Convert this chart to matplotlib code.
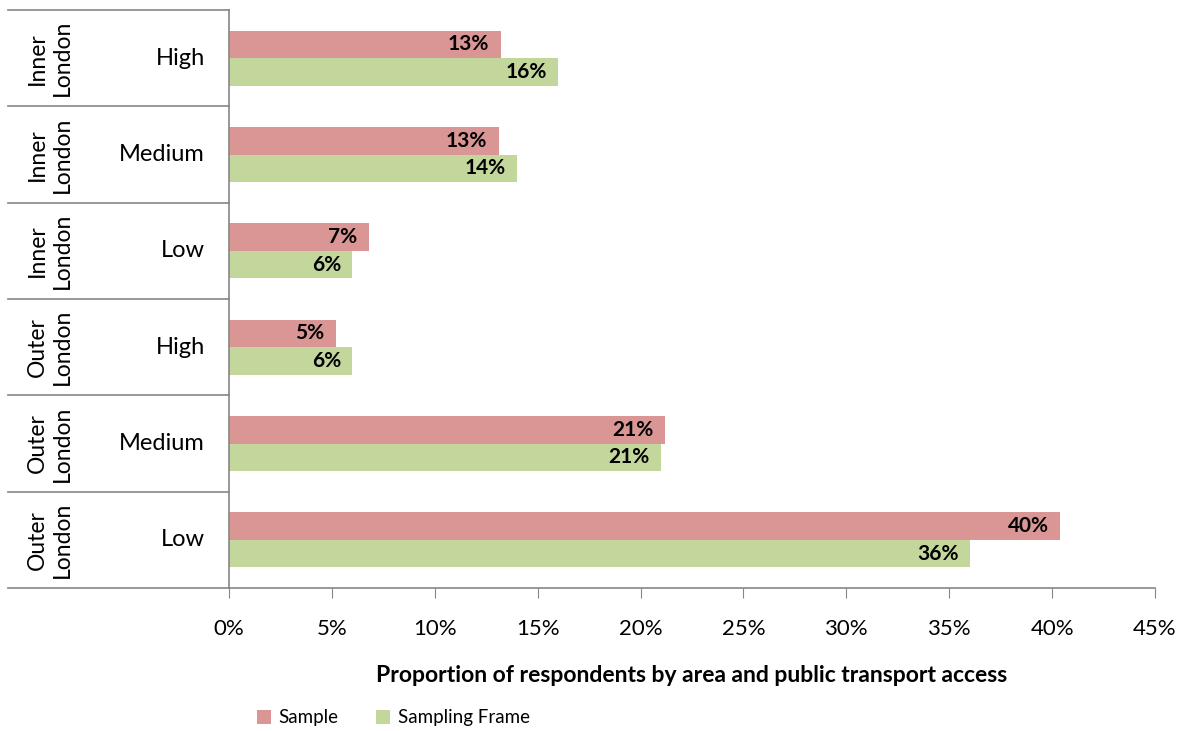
import matplotlib.pyplot as plt
import matplotlib.transforms as mtransforms
import numpy as np

# data, top row first
regions = ["Inner\nLondon", "Inner\nLondon", "Inner\nLondon",
           "Outer\nLondon", "Outer\nLondon", "Outer\nLondon"]
access = ["High", "Medium", "Low", "High", "Medium", "Low"]
sample = [13.2, 13.1, 6.8, 5.2, 21.2, 40.4]
frame = [16.0, 14.0, 6.0, 6.0, 21.0, 36.0]
sample_lbl = ["13%", "13%", "7%", "5%", "21%", "40%"]
frame_lbl = ["16%", "14%", "6%", "6%", "21%", "36%"]

plt.rcParams['font.family'] = ['Lato', 'DejaVu Sans']

fig = plt.figure(figsize=(11.85, 7.31), dpi=100)
ax = fig.add_axes([0.1932, 0.1956, 0.7815, 0.7907])

y = np.arange(len(access))
h = 0.285
b1 = ax.barh(y - h / 2, sample, h, color='#D99694', label='Sample')
b2 = ax.barh(y + h / 2, frame, h, color='#C3D69B', label='Sampling Frame')

for bars, labels in [(b1, sample_lbl), (b2, frame_lbl)]:
    for bar, lab in zip(bars, labels):
        ax.text(bar.get_width() - 0.55, bar.get_y() + bar.get_height() / 2, lab,
                ha='right', va='center', fontsize=15, fontweight='bold')

ax.set_xlim(0, 45)
ax.set_ylim(len(access) - 0.5, -0.5)
ax.set_xticks(np.arange(0, 46, 5))
ax.set_xticklabels([f"{t}%" for t in range(0, 46, 5)], fontsize=16)
ax.tick_params(axis='x', direction='out', length=7, color='#868686', pad=15)
ax.set_yticks([])
for s in ['top', 'right']:
    ax.spines[s].set_visible(False)
for s in ['left', 'bottom']:
    ax.spines[s].set_color('#868686')
    ax.spines[s].set_linewidth(1.2)

ax.set_xlabel("Proportion of respondents by area and public transport access",
              fontsize=16.5, fontweight='bold', labelpad=19)

# category table on the left
trans = mtransforms.blended_transform_factory(ax.transAxes, ax.transData)
x_left = -0.2387
for b in np.arange(-0.5, len(access), 1.0):
    ax.plot([x_left, 0], [b, b], color='#868686', lw=1.2,
            transform=trans, clip_on=False)
for i, (r, a) in enumerate(zip(regions, access)):
    ax.text(-0.026, i, a, transform=trans, ha='right', va='center', fontsize=17)
    ax.text(-0.193, i, r, transform=trans, ha='center', va='center',
            rotation=90, fontsize=16.5, linespacing=1.25)

fig.legend(handles=[b1, b2], loc='center', bbox_to_anchor=(0.332, 0.018),
           ncol=2, frameon=False, fontsize=13.5, handlelength=0.75,
           handleheight=0.75, columnspacing=2.0, handletextpad=0.4)

fig.savefig("out.png", dpi=100)
